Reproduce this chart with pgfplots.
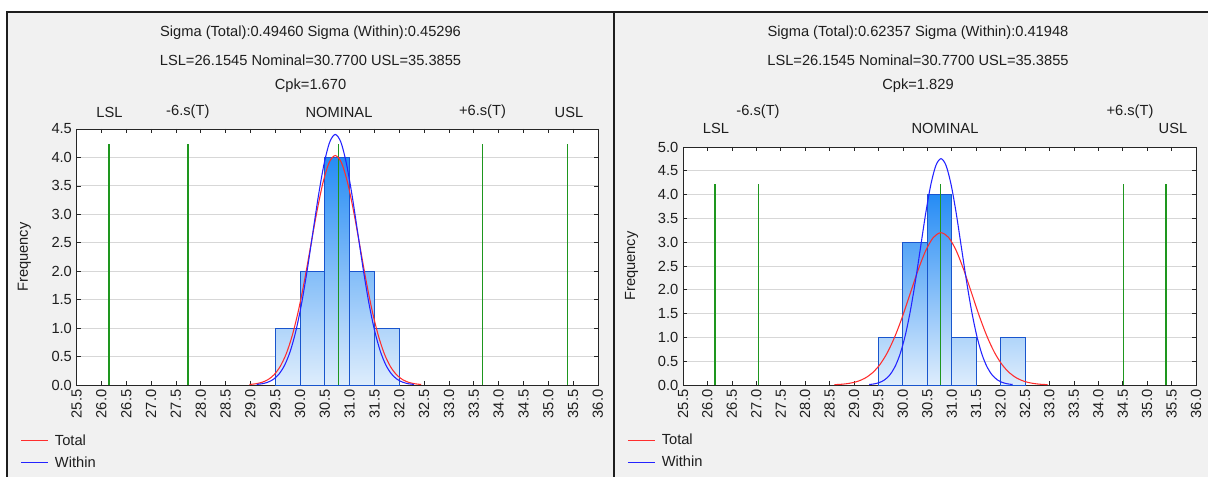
\documentclass[border=0pt]{standalone}
\usepackage{fontspec}
\setmainfont{Liberation Sans}
\usepackage{pgfplots}
\pgfplotsset{compat=1.18}

\definecolor{panelbg}{RGB}{241,241,241}
\definecolor{framec}{RGB}{30,30,30}
\definecolor{barTop}{RGB}{38,140,245}
\definecolor{barBot}{RGB}{222,237,252}
\definecolor{barEdge}{RGB}{25,85,205}
\definecolor{specg}{RGB}{30,150,30}
\definecolor{totc}{RGB}{255,45,45}
\definecolor{withc}{RGB}{35,35,255}
\definecolor{gridc}{RGB}{215,215,215}
\definecolor{txtc}{RGB}{30,30,30}

\newcommand{\tfont}{\fontsize{11}{13}\selectfont}
\newcommand{\sbar}[4]{\addplot[forget plot, draw=barEdge, line width=0.6pt, top color=barTop!#4!barBot, bottom color=barBot] coordinates {(#1,0) (#1,#3) (#2,#3) (#2,0)} -- cycle;}
\newcommand{\specline}[1]{\addplot[forget plot, draw=specg, color=specg, line width=1.1pt] coordinates {(#1,0) (#1,4.23)};}

\pgfplotsset{
  legend image code/.code={\draw[#1] (0pt,0pt) -- (20pt,0pt);},
  spcstyle/.style={
    scale only axis, anchor=south west, clip=false,
    xmin=25.5, xmax=36, ymin=0,
    xtick distance=0.5, ytick distance=0.5,
    axis background/.style={fill=white},
    axis line style={draw=black!85, line width=0.6pt},
    tick align=inside, major tick length=3pt,
    tick style={black!85, line width=0.5pt},
    ymajorgrids, grid style={gridc, line width=0.6pt},
    tick label style={font=\tfont, text=txtc, /pgf/number format/fixed, /pgf/number format/fixed zerofill, /pgf/number format/precision=1, /pgf/number format/assume math mode=true},
    xticklabel style={rotate=90, anchor=east},
    ylabel={Frequency},
    ylabel style={at={(axis description cs:-0.10,0.5)}, anchor=center, font=\tfont, text=txtc},
    legend cell align=left,
    legend style={draw=none, fill=none, inner sep=0pt, font=\tfont, text=txtc, row sep=3pt, anchor=north west,
      /tikz/every odd column/.append style={column sep=3pt}},
  }
}

\begin{document}
\begin{tikzpicture}
\useasboundingbox (0,0) rectangle (906pt,357.75pt);
\fill[white] (0,0) rectangle (906pt,357.75pt);
\fill[panelbg] (5pt,0pt) rectangle (906pt,348.75pt);
\draw[framec, line width=1.6pt] (5pt,0pt) -- (5pt,348.75pt) -- (906pt,348.75pt);
\draw[framec, line width=1.8pt] (460.7pt,0pt) -- (460.7pt,348.75pt);

% ---------------- Left panel ----------------
\begin{axis}[spcstyle, at={(57.45pt,69pt)}, width=391pt, height=192pt, ymax=4.5,
  legend style={at={(axis description cs:-0.108,-0.182)}}]
\sbar{29.5}{30.0}{1}{25}
\sbar{30.0}{30.5}{2}{50}
\sbar{30.5}{31.0}{4}{100}
\sbar{31.0}{31.5}{2}{50}
\sbar{31.5}{32.0}{1}{25}
\specline{26.1545}
\specline{27.74}
\specline{30.77}
\specline{33.68}
\specline{35.3855}
\addplot[color=totc, line width=0.8pt, smooth] coordinates {
(28.979,0.009) (29.103,0.021) (29.226,0.045) (29.350,0.092) (29.474,0.177)
(29.597,0.321) (29.721,0.546) (29.844,0.872) (29.968,1.309) (30.092,1.846)
(30.215,2.446) (30.339,3.044) (30.463,3.559) (30.586,3.909) (30.710,4.033)
(30.834,3.909) (30.957,3.559) (31.081,3.044) (31.205,2.446) (31.328,1.846)
(31.452,1.309) (31.576,0.872) (31.699,0.546) (31.823,0.321) (31.947,0.177)
(32.070,0.092) (32.194,0.045) (32.317,0.021) (32.441,0.009)};
\addlegendentry{Total}
\addplot[color=withc, line width=0.8pt, smooth] coordinates {
(29.125,0.010) (29.238,0.022) (29.351,0.049) (29.464,0.100) (29.578,0.194)
(29.691,0.350) (29.804,0.596) (29.917,0.952) (30.031,1.430) (30.144,2.016)
(30.257,2.671) (30.370,3.324) (30.484,3.886) (30.597,4.268) (30.710,4.404)
(30.823,4.268) (30.936,3.886) (31.050,3.324) (31.163,2.671) (31.276,2.016)
(31.389,1.430) (31.503,0.952) (31.616,0.596) (31.729,0.350) (31.842,0.194)
(31.956,0.100) (32.069,0.049) (32.182,0.022) (32.295,0.010)};
\addlegendentry{Within}
\end{axis}

% ---------------- Right panel ----------------
\begin{axis}[spcstyle, at={(512.25pt,69pt)}, width=384.75pt, height=178.5pt, ymax=5,
  legend style={at={(axis description cs:-0.109,-0.195)}}]
\sbar{29.5}{30.0}{1}{25}
\sbar{30.0}{30.5}{3}{75}
\sbar{30.5}{31.0}{4}{100}
\sbar{31.0}{31.5}{1}{25}
\sbar{32.0}{32.5}{1}{25}
\specline{26.1545}
\specline{27.04}
\specline{30.77}
\specline{34.52}
\specline{35.3855}
\addplot[color=totc, line width=0.8pt, smooth] coordinates {
(28.598,0.007) (28.753,0.016) (28.909,0.036) (29.065,0.073) (29.221,0.141)
(29.377,0.255) (29.533,0.433) (29.689,0.692) (29.845,1.039) (30.001,1.465)
(30.156,1.940) (30.312,2.415) (30.468,2.823) (30.624,3.100) (30.780,3.199)
(30.936,3.100) (31.092,2.823) (31.248,2.415) (31.404,1.940) (31.559,1.465)
(31.715,1.039) (31.871,0.692) (32.027,0.433) (32.183,0.255) (32.339,0.141)
(32.495,0.073) (32.651,0.036) (32.807,0.016) (32.963,0.007)};
\addlegendentry{Total}
\addplot[color=withc, line width=0.8pt, smooth] coordinates {
(29.312,0.010) (29.417,0.024) (29.522,0.053) (29.626,0.108) (29.731,0.209)
(29.836,0.378) (29.941,0.644) (30.046,1.028) (30.151,1.544) (30.256,2.177)
(30.361,2.884) (30.465,3.589) (30.570,4.196) (30.675,4.609) (30.780,4.755)
(30.885,4.609) (30.990,4.196) (31.095,3.589) (31.199,2.884) (31.304,2.177)
(31.409,1.544) (31.514,1.028) (31.619,0.644) (31.724,0.378) (31.829,0.209)
(31.934,0.108) (32.038,0.053) (32.143,0.024) (32.248,0.010)};
\addlegendentry{Within}
\end{axis}

% ---------------- Titles and spec labels ----------------
\begin{scope}[every node/.style={font=\tfont, text=txtc, inner sep=0pt}]
\node at (232.9pt,333pt) {Sigma (Total):0.49460 Sigma (Within):0.45296};
\node at (232.9pt,312.75pt) {LSL=26.1545 Nominal=30.7700 USL=35.3855};
\node at (232.9pt,293.25pt) {Cpk=1.670};
\node at (82.1pt,273.75pt) {LSL};
\node at (140.85pt,273.75pt) {-6.s(T)};
\node at (254.25pt,273.75pt) {NOMINAL};
\node at (361.9pt,273.75pt) {+6.s(T)};
\node at (426.75pt,273.75pt) {USL};

\node at (688.5pt,333pt) {Sigma (Total):0.62357 Sigma (Within):0.41948};
\node at (688.5pt,312.75pt) {LSL=26.1545 Nominal=30.7700 USL=35.3855};
\node at (688.5pt,293.25pt) {Cpk=1.829};
\node at (537pt,261.75pt) {LSL};
\node at (568.5pt,273.75pt) {-6.s(T)};
\node at (708.75pt,261.75pt) {NOMINAL};
\node at (847.5pt,273.75pt) {+6.s(T)};
\node at (879.75pt,261.75pt) {USL};
\end{scope}
\end{tikzpicture}
\end{document}
